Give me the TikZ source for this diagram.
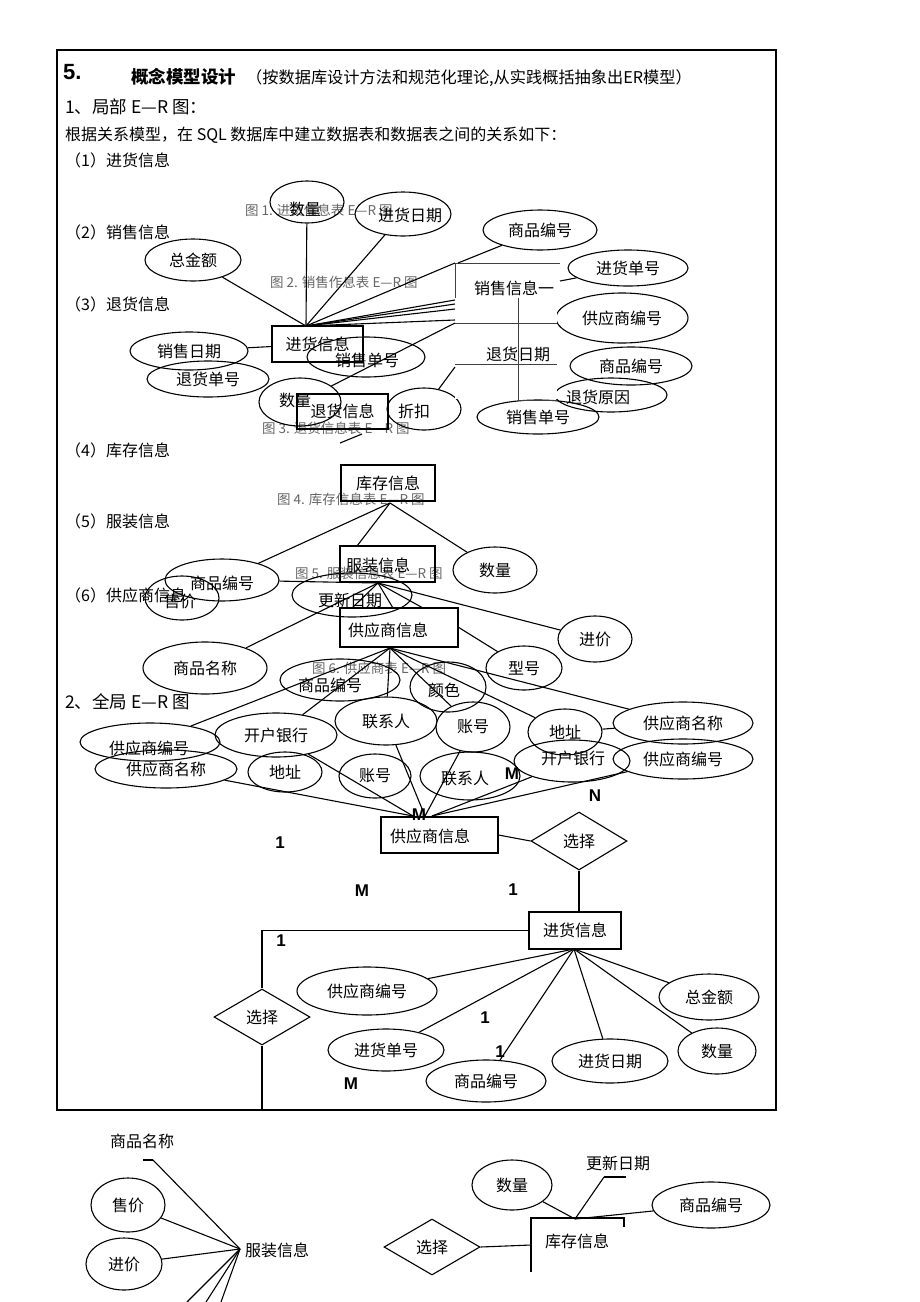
\documentclass[tikz,border=0pt]{standalone}
\usepackage{fontspec}
\setmainfont{Noto Sans CJK SC}
\newfontfamily\latf{Liberation Sans}
\usetikzlibrary{shapes.geometric,calc}
\newcommand{\pxsize}[1]{\fontsize{#1}{#1}\selectfont}
\begin{document}
\begin{tikzpicture}[x=1pt,y=-1pt,
  ell/.style={draw, ellipse, inner sep=0pt, line width=1.1pt, font=\pxsize{16}},
  ent/.style={draw, rectangle, inner sep=0pt, line width=1.1pt, font=\pxsize{16}},
  rel/.style={draw, diamond, inner sep=0pt, line width=1.1pt, font=\pxsize{16}},
  ln/.style={line width=1.1pt},
  thin/.style={line width=0.7pt, draw=black!75},
  figcap/.style={text=black!60, font=\pxsize{13.5}, inner sep=0pt, anchor=west},
  txt/.style={font=\pxsize{16}, inner sep=0pt, anchor=west},
  plain/.style={font=\pxsize{16}, inner sep=0pt},
  card/.style={font=\latf\bfseries\pxsize{17}, inner sep=0pt}]
\useasboundingbox (0,0) rectangle (920,1302);
\fill[white] (0,0) rectangle (920,1302);
% frame
\draw[line width=1.4pt] (57,50) rectangle (776,1110);

% header texts
\node[font=\latf\bfseries\pxsize{22}, anchor=west, inner sep=0pt] (t5) at (63,72) {5.};
\node[font=\bfseries\pxsize{17.5}, anchor=west, inner sep=0pt] (t6) at (131,77) {概念模型设计};
\node[font=\pxsize{16.2}, anchor=west, inner sep=0pt] (t7) at (246,78) {（按数据库设计方法和规范化理论,从实践概括抽象出ER模型）};
\node[font=\pxsize{17.5}, anchor=west, inner sep=0pt] (t8) at (65,107) {1、局部 E—R 图：};
\node[txt] (t9) at (65,135) {根据关系模型，在 SQL 数据库中建立数据表和数据表之间的关系如下：};
\node[txt] (s1) at (65,160) {（1）进货信息};
\node[txt] (s2) at (65,232) {（2）销售信息};
\node[txt] (s3) at (65,304) {（3）退货信息};
\node[txt] (s4) at (65,450) {（4）库存信息};
\node[txt] (s5) at (65,521) {（5）服装信息};
\node[txt] (s6) at (65,595) {（6）供应商信息};
\node[font=\pxsize{17.5}, anchor=west, inner sep=0pt] (t10) at (65,702) {2、全局 E—R 图};

% captions
\node[figcap] (c1) at (245,210) {图 1. 进货信息表 E—R 图};
\node[figcap] (c2) at (270,282) {图 2. 销售作息表 E—R 图};
\node[figcap] (c3) at (262,428) {图 3. 退货信息表 E—R 图};
\node[figcap] (c4) at (277,499) {图 4. 库存信息表 E—R 图};
\node[figcap] (c5) at (295,573) {图 5. 服装信息表 E—R 图};
\node[figcap] (c6) at (312,668) {图 6. 供应商表 E—R 图};

% ===== local E-R cluster 1-3 =====
\node[ell, minimum width=74, minimum height=42] (sl1) at (307,202) {};
\node[plain] (sl1t) at (305,209) {数量};
\node[ell, minimum width=96, minimum height=44] (jhrq) at (403,214) {};
\node[plain] (jhrqt) at (410,215) {进货日期};
\node[ell, minimum width=96, minimum height=42] (zje) at (193,260) {总金额};
\node[ell, minimum width=114, minimum height=40] (spbh1) at (540,230) {商品编号};
\node[ell, minimum width=120, minimum height=36] (jhdh1) at (628,268) {进货单号};
\node[ell, minimum width=132, minimum height=50] (gysbh1) at (622,318) {供应商编号};
\node[ell, minimum width=112, minimum height=34] (thyy) at (611,395) {};
\node[ell, minimum width=122, minimum height=38] (spbh1b) at (631,366) {商品编号};
\node[ell, minimum width=122, minimum height=34] (xsdh1) at (538,417) {销售单号};
\node[ell, minimum width=118, minimum height=38] (xsrq) at (189,351) {销售日期};
\node[ell, minimum width=122, minimum height=36] (thdh) at (208,379) {退货单号};
\node[ell, minimum width=118, minimum height=40] (xsdh2) at (366,357) {};
\node[plain] (xsdh2t) at (367,360) {销售单号};
\node[ell, minimum width=82, minimum height=48] (sl2) at (300,402) {};
\node[plain] (sl2t) at (295,400) {数量};
\node[ell, minimum width=74, minimum height=42] (zk) at (424,409) {};
\node[plain] (zkt) at (414,411) {折扣};
\node[ent, minimum width=91, minimum height=36] (jh1) at (317.5,344) {进货信息};
\node[ent, minimum width=91, minimum height=35, line width=1.4pt] (th1) at (342.5,411.5) {退货信息};

% white text box of 销售信息
\fill[white] (455,262) rectangle (557,399);
\coordinate (bx1) at (455,298);
\coordinate (bx2) at (455,263);
\coordinate (bx3) at (560,263);
\coordinate (bx4) at (455,323);
\coordinate (bx5) at (557,323);
\coordinate (bx6) at (455,364);
\coordinate (bx7) at (557,364);
\coordinate (bx8) at (518,298);
\coordinate (bx9) at (518,400);
\coordinate (bx10) at (557,400);
\draw[thin] (bx1) -- (bx2) -- (bx3);
\draw[thin] (bx4) -- (bx5);
\draw[thin] (bx6) -- (bx7);
\draw[thin] (bx8) -- (bx9) -- (bx10);
\node[plain] (xsxx) at (514,288) {销售信息一};
\node[plain] (thrq) at (518,354) {退货日期};
\node[plain] (thyyt) at (598,397) {退货原因};

% connectors cluster 1-3
\coordinate (J1) at (306,326);
\coordinate (R1) at (455,263);
\coordinate (R2) at (455,300);
\coordinate (R3) at (455,304);
\coordinate (R4) at (455,309);
\coordinate (R5) at (455,320);
\coordinate (R0) at (458,263);
\coordinate (R6) at (455,323);
\coordinate (R7) at (455,367);
\coordinate (T1) at (560,281);
\coordinate (S1) at (340,443);
\coordinate (S2) at (362,434);
\draw[ln] (J1) -- (zje);
\draw[ln] (J1) -- (sl1);
\draw[ln] (J1) -- (jhrq);
\draw[ln] (J1) -- (R1);
\draw[ln] (J1) -- (R2);
\draw[ln] (J1) -- (R3);
\draw[ln] (J1) -- (R4);
\draw[ln] (J1) -- (R5);
\draw[ln] (spbh1) -- (R0);
\draw[ln] (sl2) -- (R6);
\draw[ln] (zk) -- (R7);
\draw[ln] (T1) -- (jhdh1);
\draw[ln] (xsrq) -- (jh1);
\draw[ln] (S1) -- (S2);

% ===== cluster 4-6 =====
\node[ent, minimum width=94, minimum height=36, line width=1.6pt] (kc1) at (388,483) {库存信息};
\node[ent, minimum width=95, minimum height=36] (fz1) at (387.5,564) {};
\node[plain] (fz1t) at (378,565) {服装信息};
\node[ell, minimum width=84, minimum height=46] (sl3) at (495,570) {数量};
\node[ell, minimum width=114, minimum height=42] (spbh2) at (222,580) {};
\node[plain] (spbh2t) at (222,583) {商品编号};
\node[ell, minimum width=74, minimum height=44] (sj1) at (182,598) {};
\node[plain] (sj1t) at (180,601) {售价};
\node[ell, minimum width=120, minimum height=44] (gxrq) at (352,595) {};
\node[plain] (gxrqt) at (350,600) {更新日期};
\node[ent, minimum width=118, minimum height=39] (gys1) at (399,627.5) {};
\node[plain] (gys1t) at (388,630) {供应商信息};
\node[ell, minimum width=74, minimum height=46] (jj1) at (595,639) {进价};
\node[ell, minimum width=124, minimum height=52] (spmc1) at (205,668) {商品名称};
\node[ell, minimum width=76, minimum height=44] (xh) at (524,668) {型号};
\node[ell, minimum width=120, minimum height=42] (spbh3) at (340,680) {};
\node[plain] (spbh3t) at (330,685) {商品编号};
\node[ell, minimum width=76, minimum height=50] (ys) at (448,687) {};
\node[plain] (yst) at (444,690) {颜色};

\coordinate (K1) at (390,503);
\coordinate (FZT) at (357,546);
\coordinate (F1) at (378,583);
\coordinate (GT1) at (352,608);
\coordinate (GT2) at (393,608);
\coordinate (GT3) at (423,608);
\coordinate (GE) at (458,627);
\coordinate (G1) at (390,648);
\draw[ln] (K1) -- (spbh2);
\draw[ln] (K1) -- (FZT);
\draw[ln] (K1) -- (sl3);
\draw[ln] (F1) -- (spbh2);
\draw[ln] (F1) -- (spmc1);
\draw[ln] (F1) -- (jj1);
\draw[ln] (F1) -- (GT1);
\draw[ln] (F1) -- (GT2);
\draw[ln] (F1) -- (GT3);
\draw[ln] (GE) -- (xh);

% ===== global E-R =====
\node[ell, minimum width=140, minimum height=38] (gysbhL) at (150,742) {};
\node[plain] (gysbhLt) at (149,748) {供应商编号};
\node[ell, minimum width=142, minimum height=38] (gysmcL) at (166,769) {供应商名称};
\node[ell, minimum width=122, minimum height=44] (khyhL) at (276,735) {开户银行};
\node[ell, minimum width=74, minimum height=40] (dzL) at (285,772) {地址};
\node[ell, minimum width=102, minimum height=48] (lxrU) at (386,721) {联系人};
\node[ell, minimum width=72, minimum height=44] (zhL) at (375,776) {账号};
\node[ell, minimum width=74, minimum height=50] (zhU) at (473,727) {账号};
\node[ell, minimum width=74, minimum height=46] (dzR) at (565,732) {地址};
\node[ell, minimum width=116, minimum height=42] (khyhR) at (572,761) {};
\node[plain] (khyhRt) at (573,758) {开户银行};
\node[ell, minimum width=140, minimum height=42] (gysmcR) at (683,723) {供应商名称};
\node[ell, minimum width=140, minimum height=40] (gysbhR) at (683,759) {供应商编号};
\node[ell, minimum width=100, minimum height=48] (lxrL) at (470,776) {};
\node[plain] (lxrLt) at (465,778) {联系人};

\draw[ln] (G1) -- (gysbhL);
\draw[ln] (G1) -- (khyhL);
\draw[ln] (G1) -- (lxrU);
\draw[ln] (G1) -- (zhU);
\draw[ln] (G1) -- (dzR);
\draw[ln] (G1) -- (gysmcR);
\draw[ln] (dzR) -- (gysmcR);

\node[ent, minimum width=117, minimum height=36] (gys2) at (439.5,835) {};
\node[plain] (gys2t) at (430,836) {供应商信息};
\coordinate (H2) at (413,816);
\coordinate (H3) at (425,816);
\coordinate (H4) at (432,816);
\draw[ln] (gysmcL) -- (H2);
\draw[ln] (khyhL) -- (H2);
\draw[ln] (lxrU) -- (H3);
\draw[ln] (zhU) -- (H3);
\draw[ln] (khyhR) -- (H4);
\draw[ln] (gysbhR) -- (H4);

\node[rel, minimum width=96, minimum height=58] (xz1) at (579,841) {选择};
\node[ent, minimum width=92, minimum height=37] (jh2) at (575,930.5) {进货信息};
\node[rel, minimum width=96, minimum height=56] (xz2) at (262,1017) {选择};
\node[ell, minimum width=140, minimum height=48] (gysbh2) at (367,991) {供应商编号};
\node[ell, minimum width=100, minimum height=46] (zje2) at (709,997) {总金额};
\node[ell, minimum width=116, minimum height=42] (jhdh2) at (386,1050) {进货单号};
\node[ell, minimum width=116, minimum height=44] (jhrq2) at (610,1061) {进货日期};
\node[ell, minimum width=78, minimum height=46] (sl4) at (717,1051) {数量};
\node[ell, minimum width=120, minimum height=42] (spbh4) at (486,1081) {商品编号};
\coordinate (J2) at (574,949);
\coordinate (XB) at (262,1110);
\draw[ln] (gys2.east) -- (xz1.west);
\draw[ln] (xz1.south) -- (xz1.south |- jh2.north);
\draw[ln] (jh2.west) -| (xz2.north);
\draw[ln] (xz2.south) -- (XB);
\draw[ln] (J2) -- (gysbh2);
\draw[ln] (J2) -- (jhdh2);
\draw[ln] (J2) -- (spbh4);
\draw[ln] (J2) -- (jhrq2);
\draw[ln] (J2) -- (sl4);
\draw[ln] (J2) -- (zje2);

% cardinalities
\node[card] (m1) at (512,774) {M};
\node[card] (n1) at (595,796) {N};
\node[card] (m2) at (419,815) {M};
\node[card] (o1) at (280,843) {1};
\node[card] (m3) at (362,891) {M};
\node[card] (o2) at (513,890) {1};
\node[card] (o3) at (281,941) {1};
\node[card] (o4) at (485,1018) {1};
\node[card] (o5) at (500,1052) {1};
\node[card] (m4) at (351,1084) {M};

% ===== below frame =====
\node[plain] (spmc2) at (142,1141) {商品名称};
\coordinate (D1) at (143,1160);
\coordinate (D2) at (153,1160);
\draw[ln] (D1) -- (D2);
\node[ell, minimum width=74, minimum height=54] (sj2) at (128,1205) {售价};
\node[ell, minimum width=76, minimum height=52] (jj2) at (124,1264) {进价};
\node[txt] (fz2) at (245,1250) {服装信息};
\coordinate (F2) at (240,1249);
\coordinate (B1) at (187,1302);
\coordinate (B2) at (206,1302);
\coordinate (B3) at (221,1302);
\draw[ln] (D2) -- (F2);
\draw[ln] (sj2) -- (F2);
\draw[ln] (jj2) -- (F2);
\draw[ln] (F2) -- (B1);
\draw[ln] (F2) -- (B2);
\draw[ln] (F2) -- (B3);

\node[rel, minimum width=96, minimum height=56] (xz3) at (432,1247) {选择};
\coordinate (KA) at (531,1272);
\coordinate (KB) at (531,1218);
\coordinate (KC) at (624,1218);
\coordinate (KD) at (624,1227);
\draw[ln] (KA) -- (KB) -- (KC) -- (KD);
\node[plain] (kc2) at (577,1241) {库存信息};
\coordinate (KW) at (531,1245);
\draw[ln] (xz3.east) -- (KW);
\node[ell, minimum width=80, minimum height=50] (sl5) at (512,1185) {数量};
\node[plain] (gxrq2) at (618,1163) {更新日期};
\coordinate (GX1) at (604,1177);
\coordinate (GX2) at (626,1177);
\draw[ln] (GX1) -- (GX2);
\node[ell, minimum width=118, minimum height=46] (spbh5) at (711,1205) {商品编号};
\coordinate (K2) at (575,1219);
\draw[ln] (K2) -- (sl5);
\draw[ln] (K2) -- (GX1);
\draw[ln] (K2) -- (spbh5);
\end{tikzpicture}
\end{document}
